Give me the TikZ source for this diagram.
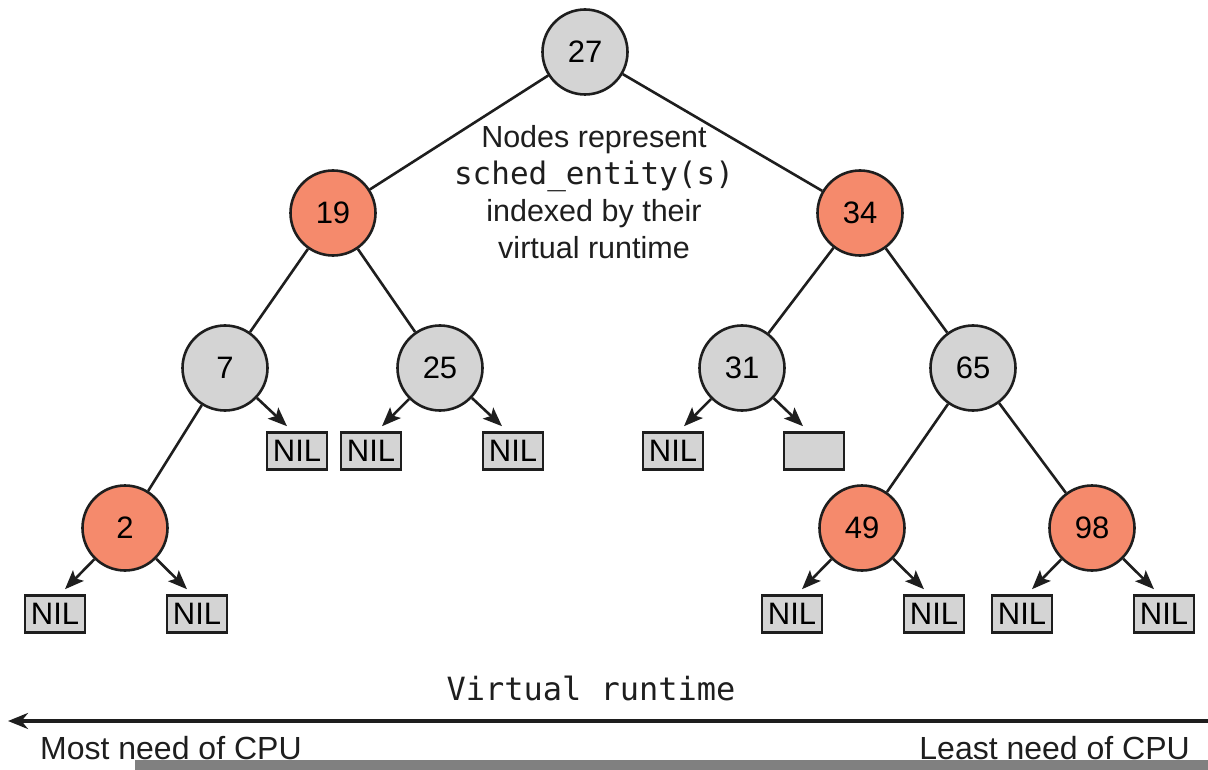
\documentclass[tikz,border=0pt]{standalone}
\usepackage{fontspec}
\setmainfont{Liberation Sans}
\setmonofont{DejaVu Sans Mono}
\usetikzlibrary{arrows.meta}
\definecolor{nodegray}{HTML}{D4D4D4}
\definecolor{nodered}{HTML}{F58A6C}
\definecolor{linegray}{HTML}{1E1E1E}
\begin{document}
\begin{tikzpicture}[x=1pt,y=-1pt,
  tn/.style={circle,draw=linegray,line width=2.6pt,minimum size=85pt,inner sep=0pt,
    font=\fontsize{31}{33}\selectfont},
  gn/.style={tn,fill=nodegray},
  rn/.style={tn,fill=nodered},
  nil/.style={draw=linegray,fill=nodegray,line width=2.6pt,minimum width=60pt,minimum height=37pt,
    inner sep=0pt,font=\fontsize{31}{33}\selectfont},
  edge/.style={draw=linegray,line width=2.6pt},
  arr/.style={draw=linegray,line width=2.6pt,-{Stealth[length=19pt,width=15pt,inset=4pt]}}]
\useasboundingbox (0,0) rectangle (1208,770);
% circles
\node[gn] (n27) at (585,52) {27};
\node[rn] (n19) at (333,213) {19};
\node[rn] (n34) at (860,213) {34};
\node[gn] (n7) at (225,368) {7};
\node[gn] (n25) at (440,368) {25};
\node[gn] (n31) at (742,368) {31};
\node[gn] (n65) at (973,368) {65};
\node[rn] (n2) at (125,528) {2};
\node[rn] (n49) at (862,528) {49};
\node[rn] (n98) at (1092,528) {98};
% NIL boxes
\node[nil] (a) at (297,451) {NIL};
\node[nil] (b) at (371,451) {NIL};
\node[nil] (c) at (513,451) {NIL};
\node[nil] (d) at (673,451) {NIL};
\node[nil] (e) at (814,451) {};
\node[nil] (f) at (55,614) {NIL};
\node[nil] (g) at (197,614) {NIL};
\node[nil] (h) at (792,614) {NIL};
\node[nil] (i) at (934,614) {NIL};
\node[nil] (j) at (1022,614) {NIL};
\node[nil] (k) at (1164,614) {NIL};
% tree edges
\draw[edge] (n27) -- (n19);
\draw[edge] (n27) -- (n34);
\draw[edge] (n19) -- (n7);
\draw[edge] (n19) -- (n25);
\draw[edge] (n34) -- (n31);
\draw[edge] (n34) -- (n65);
\draw[edge] (n7) -- (n2);
\draw[edge] (n65) -- (n49);
\draw[edge] (n65) -- (n98);
% arrows to leaves
\draw[arr] (n7) -- ([xshift=-10pt,yshift=5pt]a.north);
\draw[arr] (n25) -- ([xshift=11pt,yshift=5pt]b.north);
\draw[arr] (n25) -- ([xshift=-11pt,yshift=5pt]c.north);
\draw[arr] (n31) -- ([xshift=11pt,yshift=5pt]d.north);
\draw[arr] (n31) -- ([xshift=-11pt,yshift=5pt]e.north);
\draw[arr] (n2) -- ([xshift=10pt,yshift=5pt]f.north);
\draw[arr] (n2) -- ([xshift=-10pt,yshift=5pt]g.north);
\draw[arr] (n49) -- ([xshift=10pt,yshift=5pt]h.north);
\draw[arr] (n49) -- ([xshift=-10pt,yshift=5pt]i.north);
\draw[arr] (n98) -- ([xshift=10pt,yshift=5pt]j.north);
\draw[arr] (n98) -- ([xshift=-10pt,yshift=5pt]k.north);
% annotation
\node[align=center,inner sep=0pt,text=linegray,font=\fontsize{30.5}{37}\selectfont] (note) at (594,192)
  {Nodes represent\\{\ttfamily\fontsize{31}{37}\selectfont sched\_entity(s)}\\indexed by their\\virtual runtime};
% axis
\node[inner sep=0pt,text=linegray,font=\ttfamily\fontsize{32}{34}\selectfont] (vr) at (591,688) {Virtual runtime};
\coordinate (axR) at (1208,721);
\coordinate (axL) at (8,721);
\draw[draw=linegray,line width=3.5pt,-{Stealth[length=20pt,width=16pt]}] (axR) -- (axL);
\fill[gray] (135,760) rectangle (1208,770);
\node[anchor=base west,inner sep=0pt,text=linegray,font=\fontsize{32}{34}\selectfont] (most) at (40,759) {Most need of CPU};
\node[anchor=base east,inner sep=0pt,text=linegray,font=\fontsize{32}{34}\selectfont] (least) at (1190,759) {Least need of CPU};
\end{tikzpicture}
\end{document}
